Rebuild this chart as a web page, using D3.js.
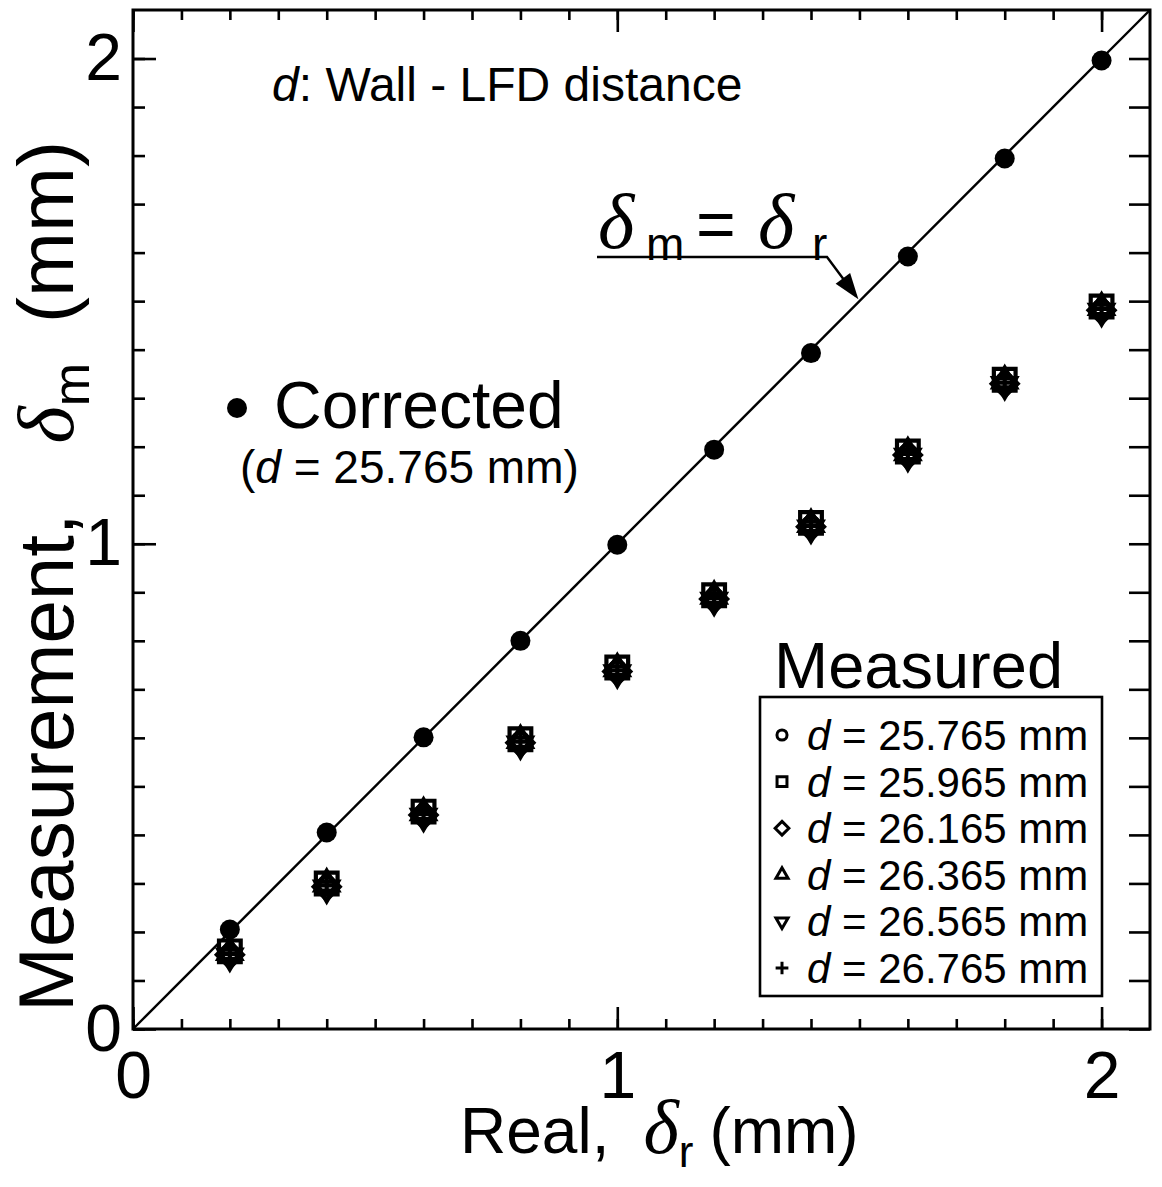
<!DOCTYPE html>
<html>
<head>
<meta charset="utf-8">
<script src="https://cdn.jsdelivr.net/npm/d3@7"></script>
<style>
  html, body { margin: 0; padding: 0; background: #fff; }
  svg { display: block; }
  text { font-family: "Liberation Sans", Arial, sans-serif; fill: #000; }
  .greek { font-family: "Liberation Serif", "DejaVu Serif", serif; font-style: italic; }
</style>
</head>
<body>
<script>
// Real displacement (mm) at each test step
const realDelta = [0.2, 0.4, 0.6, 0.8, 1.0, 1.2, 1.4, 1.6, 1.8, 2.0];

// Corrected measurement, d = 25.765 mm
const corrected = [0.205, 0.405, 0.601, 0.800, 0.998, 1.194, 1.393, 1.592, 1.794, 1.996];

// Raw measurements for each wall–LFD distance d
const seriesLabels = ["25.765", "25.965", "26.165", "26.365", "26.565", "26.765"];
const meas25765 = [0.156, 0.297, 0.444, 0.594, 0.741, 0.890, 1.039, 1.187, 1.334, 1.485];
const meas25965 = [0.160, 0.300, 0.448, 0.597, 0.745, 0.894, 1.043, 1.190, 1.338, 1.489];
const meas26165 = [0.153, 0.293, 0.441, 0.590, 0.737, 0.886, 1.035, 1.183, 1.330, 1.481];
const meas26365 = [0.158, 0.299, 0.446, 0.595, 0.743, 0.892, 1.040, 1.188, 1.336, 1.487];
const meas26565 = [0.150, 0.290, 0.438, 0.587, 0.734, 0.883, 1.032, 1.180, 1.328, 1.479];
const meas26765 = [0.155, 0.296, 0.443, 0.592, 0.739, 0.888, 1.037, 1.185, 1.332, 1.484];
const measured = [meas25765, meas25965, meas26165, meas26365, meas26565, meas26765];

// Axis extent and ticks
const axisMax = 2.1;
const majorTicks = [0, 1, 2];
const minorTicks = d3.range(0, 21).map(i => i / 10);

const W = 1162, H = 1187;
const svg = d3.select("body").append("svg").attr("width", W).attr("height", H);

const x = d3.scaleLinear().domain([0, axisMax]).range([133, 1150]);
const y = d3.scaleLinear().domain([0, axisMax]).range([1029, 10]);

// ---- axes (ticks point inward) ----
function addAxis(axis, transform) {
  const g = svg.append("g").attr("transform", transform).call(axis);
  g.select(".domain").remove();
  g.selectAll(".tick line").attr("stroke", "#000").attr("stroke-width", 2.6);
  g.selectAll("text").style("font-family", "'Liberation Sans', Arial, sans-serif")
    .style("font-size", "66px").attr("fill", "#000");
  return g;
}
const bottomY = y(0), leftX = x(0), topY = y(axisMax), rightX = x(axisMax);

// bottom
addAxis(d3.axisBottom(x).tickValues(minorTicks).tickSize(-10).tickFormat(""), `translate(0,${bottomY})`);
addAxis(d3.axisBottom(x).tickValues(majorTicks).tickSize(-22).tickPadding(22).tickFormat(d3.format("d")), `translate(0,${bottomY})`);
// top
addAxis(d3.axisTop(x).tickValues(minorTicks).tickSize(-10).tickFormat(""), `translate(0,${topY})`);
addAxis(d3.axisTop(x).tickValues(majorTicks).tickSize(-22).tickFormat(""), `translate(0,${topY})`);
// left
addAxis(d3.axisLeft(y).tickValues(minorTicks).tickSize(-12).tickFormat(""), `translate(${leftX},0)`);
addAxis(d3.axisLeft(y).tickValues(majorTicks).tickSize(-23).tickPadding(11).tickFormat(d3.format("d")), `translate(${leftX},0)`);
// right
addAxis(d3.axisRight(y).tickValues(minorTicks).tickSize(-21).tickFormat(""), `translate(${rightX},0)`);

// frame
svg.append("rect")
  .attr("x", leftX).attr("y", topY)
  .attr("width", rightX - leftX).attr("height", bottomY - topY)
  .attr("fill", "none").attr("stroke", "#000").attr("stroke-width", 3);

// ---- identity line delta_m = delta_r ----
const diag = [0, axisMax];
svg.append("line")
  .attr("x1", x(diag[0])).attr("y1", y(diag[0]))
  .attr("x2", x(diag[1])).attr("y2", y(diag[1]))
  .attr("stroke", "#000").attr("stroke-width", 2.4);

// ---- measured series (hollow symbols) ----
const symbolDefs = [
  { type: d3.symbolCircle,    size: 200, legend: 80,  rotate: 0 },
  { type: d3.symbolSquare2,   size: 600, legend: 125, rotate: 0 },
  { type: d3.symbolDiamond2,  size: 430, legend: 120, rotate: 0 },
  { type: d3.symbolTriangle2, size: 370, legend: 105, rotate: 0 },
  { type: d3.symbolTriangle2, size: 370, legend: 105, rotate: 180 },
  { type: d3.symbolPlus,      size: 170, legend: 55,  rotate: 0 }
];

measured.forEach((vals, si) => {
  const s = symbolDefs[si];
  svg.append("g").selectAll("path")
    .data(vals)
    .join("path")
    .attr("d", d3.symbol(s.type, s.size))
    .attr("transform", (v, i) => `translate(${x(realDelta[i])},${y(v)}) rotate(${s.rotate})`)
    .attr("fill", "none")
    .attr("stroke", "#000")
    .attr("stroke-width", 4.2);
});

// ---- corrected series (filled circles) ----
svg.append("g").selectAll("circle")
  .data(corrected)
  .join("circle")
  .attr("cx", (v, i) => x(realDelta[i]))
  .attr("cy", v => y(v))
  .attr("r", 10)
  .attr("fill", "#000");

// ---- annotations ----
svg.append("text").attr("x", 272).attr("y", 101).style("font-size", "48px")
  .call(t => {
    t.append("tspan").style("font-style", "italic").text("d");
    t.append("tspan").text(": Wall - LFD distance");
  });

// identity-line callout
const eq = svg.append("text").attr("x", 598).attr("y", 248);
eq.append("tspan").attr("class", "greek").style("font-size", "78px").text("δ");
eq.append("tspan").attr("x", 646).attr("dy", 12).style("font-size", "46px").text("m");
eq.append("tspan").attr("x", 696).attr("dy", -12).style("font-size", "68px").text("=");
eq.append("tspan").attr("x", 758).attr("class", "greek").style("font-size", "78px").text("δ");
eq.append("tspan").attr("x", 812).attr("dy", 12).style("font-size", "46px").text("r");

const calloutPts = [[597, 257], [827, 257], [856, 296]];
svg.append("path")
  .attr("d", d3.line()(calloutPts))
  .attr("fill", "none").attr("stroke", "#000").attr("stroke-width", 2.4);
// arrowhead along the last segment
(function () {
  const [p, q] = [calloutPts[1], calloutPts[2]];
  const ang = Math.atan2(q[1] - p[1], q[0] - p[0]);
  const tip = [q[0] + 4 * Math.cos(ang), q[1] + 4 * Math.sin(ang)];
  const L = 26, Wd = 9;
  const bx = tip[0] - L * Math.cos(ang), by = tip[1] - L * Math.sin(ang);
  const nx = -Math.sin(ang), ny = Math.cos(ang);
  svg.append("path")
    .attr("d", `M${tip[0]},${tip[1]}L${bx + Wd * nx},${by + Wd * ny}L${bx - Wd * nx},${by - Wd * ny}Z`)
    .attr("fill", "#000");
})();

// Corrected legend
svg.append("circle").attr("cx", 237).attr("cy", 408).attr("r", 10).attr("fill", "#000");
svg.append("text").attr("x", 274).attr("y", 428).style("font-size", "66px").text("Corrected");
svg.append("text").attr("x", 240).attr("y", 483).style("font-size", "46px")
  .call(t => {
    t.append("tspan").text("(");
    t.append("tspan").style("font-style", "italic").text("d");
    t.append("tspan").text(" = 25.765 mm)");
  });

// Measured legend
svg.append("text").attr("x", 774).attr("y", 688).style("font-size", "65px").text("Measured");
svg.append("rect").attr("x", 760).attr("y", 697).attr("width", 342).attr("height", 299)
  .attr("fill", "#fff").attr("stroke", "#000").attr("stroke-width", 2.6);

seriesLabels.forEach((lab, i) => {
  const cy = 735 + i * 46.6;
  const s = symbolDefs[i];
  svg.append("path")
    .attr("d", d3.symbol(s.type, s.legend))
    .attr("transform", `translate(782,${cy}) rotate(${s.rotate})`)
    .attr("fill", "none").attr("stroke", "#000").attr("stroke-width", 3);
  svg.append("text").attr("x", 807).attr("y", cy + 15).style("font-size", "42px")
    .call(t => {
      t.append("tspan").style("font-style", "italic").text("d");
      t.append("tspan").text(" = " + lab + " mm");
    });
});

// ---- axis titles ----
const xt = svg.append("text").attr("x", 460).attr("y", 1153).style("font-size", "64px");
xt.append("tspan").text("Real,");
xt.append("tspan").attr("dx", 34).attr("class", "greek").style("font-size", "76px").text("δ");
xt.append("tspan").attr("dy", 14).style("font-size", "44px").text("r");
xt.append("tspan").attr("dy", -14).attr("dx", 16).text("(mm)");

const yt = svg.append("text")
  .attr("transform", "translate(73,1012) rotate(-90)")
  .style("font-size", "78px");
yt.append("tspan").text("Measurement,");
yt.append("tspan").attr("dx", 70).attr("class", "greek").style("font-size", "80px").text("δ");
yt.append("tspan").attr("dy", 16).style("font-size", "52px").text("m");
yt.append("tspan").attr("dy", -16).attr("dx", 40).text("(mm)");
</script>
</body>
</html>
